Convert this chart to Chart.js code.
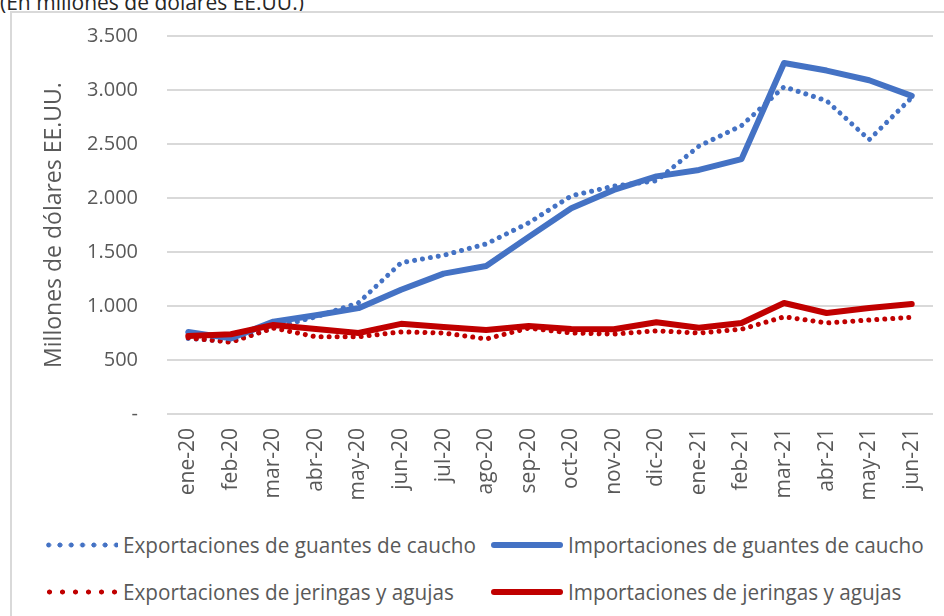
<!DOCTYPE html>
<html>
<head>
<meta charset="utf-8">
<script src="https://cdn.jsdelivr.net/npm/chart.js@4/dist/chart.umd.min.js"></script>
<style>
  body { margin: 0; background: #fff; width: 944px; height: 616px; overflow: hidden; position: relative; font-family: "Open Sans", sans-serif; }
  #title { position: absolute; left: 0; top: -13px; font-size: 21px; line-height: 30px; color: #262626; white-space: nowrap; }
  #frame { position: absolute; left: 10px; top: 11px; width: 960px; height: 700px; border: 2px solid #d9d9d9; box-sizing: border-box; }
  #wrap { position: absolute; left: 0; top: 0; width: 944px; height: 514px; }
  .item { position: absolute; height: 30px; display: flex; align-items: center; white-space: nowrap; }
  .sample { width: 72px; margin-right: 5px; flex: none; }
  .label { font-size: 21px; color: #595959; transform-origin: left center; display: inline-block; }
</style>
</head>
<body>
<div id="title">(En millones de dólares EE.UU.)</div>
<div id="frame"></div>
<div id="wrap"><canvas id="chart"></canvas></div>
<div id="legend"></div>
<script>
const months = ['ene-20', 'feb-20', 'mar-20', 'abr-20', 'may-20', 'jun-20', 'jul-20', 'ago-20', 'sep-20',
  'oct-20', 'nov-20', 'dic-20', 'ene-21', 'feb-21', 'mar-21', 'abr-21', 'may-21', 'jun-21'];

const expGuantes = [700, 670, 800, 900, 1030, 1400, 1470, 1575, 1770, 2020, 2110, 2160, 2480, 2670, 3030, 2900, 2540, 2930];
const impGuantes = [760, 700, 855, 915, 980, 1150, 1300, 1370, 1640, 1905, 2075, 2200, 2260, 2360, 3250, 3180, 3090, 2945];
const expJeringas = [705, 665, 795, 715, 715, 760, 750, 695, 795, 750, 740, 770, 750, 785, 900, 843, 870, 895];
const impJeringas = [722, 738, 825, 787, 750, 835, 805, 778, 815, 787, 785, 850, 798, 843, 1028, 935, 981, 1018];

const yTicks = [0, 500, 1000, 1500, 2000, 2500, 3000, 3500];

const blue = '#4472c4';
const red = '#c00000';

function fmt(v) {
  if (v === 0) return '-';
  return v.toString().replace(/\B(?=(\d{3})+(?!\d))/g, '.');
}

const dotted = { borderWidth: 5, borderDash: [0.01, 8], borderCapStyle: 'round' };
const solid = { borderWidth: 6, borderCapStyle: 'round', borderJoinStyle: 'round' };

const ctx = document.getElementById('chart').getContext('2d');
const chart = new Chart(ctx, {
  type: 'line',
  data: {
    labels: months,
    datasets: [
      Object.assign({ label: 'Exportaciones de guantes de caucho', data: expGuantes, borderColor: blue, order: 3 }, dotted),
      Object.assign({ label: 'Importaciones de guantes de caucho', data: impGuantes, borderColor: blue, order: 1 }, solid),
      Object.assign({ label: 'Exportaciones de jeringas y agujas', data: expJeringas, borderColor: red, order: 2 }, dotted),
      Object.assign({ label: 'Importaciones de jeringas y agujas', data: impJeringas, borderColor: red, order: 0 }, solid)
    ]
  },
  options: {
    responsive: true,
    maintainAspectRatio: false,
    animation: false,
    layout: { padding: { left: 0, right: 11, top: 36, bottom: 0 } },
    elements: { point: { radius: 0 }, line: { tension: 0, fill: false } },
    plugins: { legend: { display: false }, tooltip: { enabled: false } },
    scales: {
      x: {
        offset: true,
        grid: { display: false, drawTicks: false, offset: true },
        border: { display: false },
        ticks: {
          autoSkip: false, maxRotation: 90, minRotation: 90, padding: 14,
          color: '#595959', font: { family: 'Open Sans', size: 21 }
        },
        afterFit: function(scale) {
          scale.height = 100;
          scale.paddingLeft = 0;
          scale.paddingRight = 0;
        }
      },
      y: {
        min: 0, max: 3500,
        afterBuildTicks: function(scale) { scale.ticks = yTicks.map(v => ({ value: v })); },
        grid: { color: '#d9d9d9', lineWidth: 2, drawTicks: false },
        border: { display: false },
        ticks: {
          padding: 29, color: '#595959', font: { family: 'Open Sans', size: 20 },
          callback: function(value) { return fmt(value); }
        },
        title: {
          display: true, text: 'Millones de dólares EE.UU.', color: '#595959',
          font: { family: 'Open Sans', size: 23, lineHeight: 1.2 }, padding: { top: 41, bottom: 0 }
        },
        afterFit: function(scale) {
          scale.width = 167;
          scale.paddingTop = 0;
          scale.paddingBottom = 0;
        }
      }
    }
  }
});

// legend in 2 columns like the original
const legendPos = [[46, 530], [491, 530], [46, 577], [491, 577]];
const legendEl = document.getElementById('legend');
chart.data.datasets.forEach((ds, i) => {
  const item = document.createElement('div');
  item.className = 'item';
  item.style.left = legendPos[i][0] + 'px';
  item.style.top = legendPos[i][1] + 'px';
  const sample = document.createElement('div');
  sample.className = 'sample';
  if (ds.borderDash) {
    const step = ds.borderColor === blue ? 11.3 : 13;
    sample.style.height = '6px';
    sample.style.backgroundImage = 'radial-gradient(circle, ' + ds.borderColor + ' 2.2px, transparent 2.8px)';
    sample.style.backgroundSize = step + 'px 6px';
    sample.style.backgroundPosition = '-3px 0';
  } else {
    sample.style.height = '6px';
    sample.style.borderRadius = '3px';
    sample.style.background = ds.borderColor;
  }
  const label = document.createElement('span');
  label.className = 'label';
  label.textContent = ds.label;
  item.appendChild(sample);
  item.appendChild(label);
  legendEl.appendChild(item);
});
// fit legend text width to the original
const first = legendEl.querySelector('.label');
const sx = 353 / first.getBoundingClientRect().width;
legendEl.querySelectorAll('.label').forEach(l => { l.style.transform = 'scaleX(' + sx + ')'; });
</script>
</body>
</html>
